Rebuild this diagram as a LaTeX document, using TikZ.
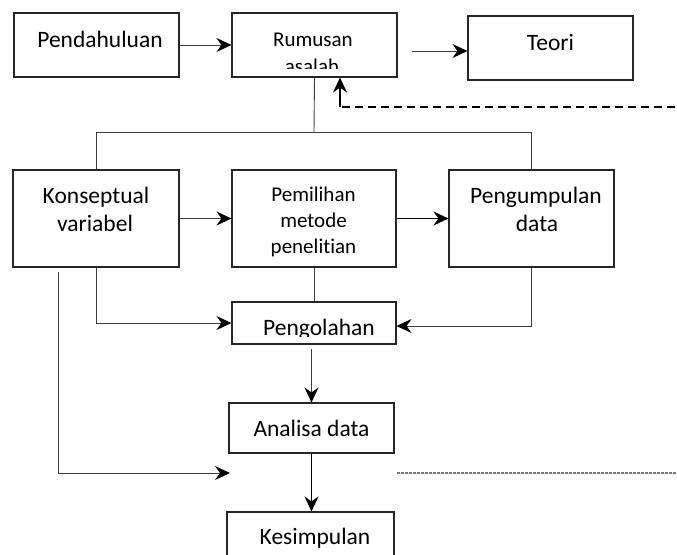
\documentclass[tikz,border=0pt]{standalone}
\usepackage{fontspec}
\setmainfont{Carlito}[Ligatures=NoCommon]
\usetikzlibrary{arrows.meta,calc}
\definecolor{lngray}{HTML}{3C3C3C}
\definecolor{dotgray}{HTML}{777777}

\begin{document}
\begin{tikzpicture}[x=1pt,y=-1pt,
    box/.style={draw=black!85, line width=1.1pt, rectangle, inner sep=0pt},
    big/.style={font=\fontsize{23.5}{28}\selectfont, anchor=base, inner sep=0pt},
    small/.style={font=\fontsize{21}{26}\selectfont, anchor=base, inner sep=0pt},
    conn/.style={lngray, line width=0.9pt},
    arr/.style={conn, -{Stealth[length=15pt,width=14pt,inset=5pt,color=black]}},
    thickarr/.style={black, line width=1.8pt, -{Stealth[length=15pt,width=14pt,inset=5pt]}},
    fbdash/.style={black, line width=1.6pt, dash pattern=on 8pt off 5pt},
    fine/.style={dotgray, line width=1.2pt, dash pattern=on 2.5pt off 1.5pt}]
    \clip (0,0) rectangle (677,554);
    \node[box, minimum width=165pt, minimum height=64pt] (pend) at (96.5,45) {};
    \node[box, minimum width=165pt, minimum height=64pt] (rum) at (314.5,45) {};
    \node[box, minimum width=165pt, minimum height=64pt] (teori) at (550.5,48) {};
    \node[box, minimum width=166pt, minimum height=97pt] (konsep) at (96,218.5) {};
    \node[box, minimum width=164pt, minimum height=97pt] (pemil) at (314,218.5) {};
    \node[box, minimum width=165pt, minimum height=97pt] (pengum) at (531.5,218.5) {};
    \node[box, minimum width=164pt, minimum height=42pt] (pengol) at (314,323) {};
    \node[box, minimum width=165pt, minimum height=50pt] (analisa) at (311.5,428) {};
    \node[box, minimum width=167pt, minimum height=70pt] (kesimp) at (310.5,547) {};
    \node[big] (tpend) at (100,47) {Pendahuluan};
    \node[small] (trum) at (313,46) {Rumusan};
    \begin{scope}
      \clip (232,13) rectangle (397,68);
      \node[small] (trumb) at (312,73) {asalah};
    \end{scope}
    \node[big] (tteori) at (550.5,50) {Teori};
    \node[big] (tkonsep) at (96,203) {Konseptual};
    \node[big] (tkonsepb) at (95,231) {variabel};
    \node[small] (tpemil) at (313.5,201) {Pemilihan};
    \node[small] (tpemilb) at (313.5,227) {metode};
    \node[small] (tpemilc) at (313.5,253) {penelitian};
    \node[big] (tpengum) at (536,203) {Pengumpulan};
    \node[big] (tpengumb) at (537,231) {data};
    \begin{scope}
      \clip (232,302) rectangle (396,336);
      \node[big] (tpengol) at (319,335) {Pengolahan};
    \end{scope}
    \node[big] (tanalisa) at (311.5,436) {Analisa data};
    \node[big] (tkesimp) at (315,544) {Kesimpulan};
    \coordinate (tstart) at (412,51);
    \coordinate (bus) at (314,132);
    \coordinate (fbend) at (675,107);
    \coordinate (fbturn) at (340,107);
    \coordinate (lstart) at (58,272);
    \coordinate (lend) at (230,473);
    \coordinate (dstart) at (397,473);
    \coordinate (dend) at (677,473);
    \draw[arr] (pend.east) -- (rum.west);
    \draw[arr] (tstart) -- (tstart -| teori.west);
    \draw[fbdash] (fbend) -- (fbturn);
    \draw[thickarr] (fbturn) -- (fbturn |- rum.south);
    \draw[conn] (rum.south) -- (bus);
    \draw[conn] (konsep.north) -- (konsep.north |- bus) -- (pengum.north |- bus) -- (pengum.north);
    \draw[arr] (konsep.east) -- (pemil.west);
    \draw[thickarr] (pemil.east) -- (pengum.west);
    \draw[conn] (pemil.south) -- (pengol.north);
    \draw[arr] (konsep.south) |- (pengol.west);
    \draw[arr] (pengum.south) |- ([yshift=-3pt]pengol.east);
    \draw[arr] ([yshift=-4pt]pengol.south -| analisa.north) -- (analisa.north);
    \draw[thickarr] (analisa.south) -- (analisa.south |- kesimp.north);
    \draw[arr] (lstart) |- (lend);
    \draw[fine] (dstart) -- (dend);
  \end{tikzpicture}
\end{document}
